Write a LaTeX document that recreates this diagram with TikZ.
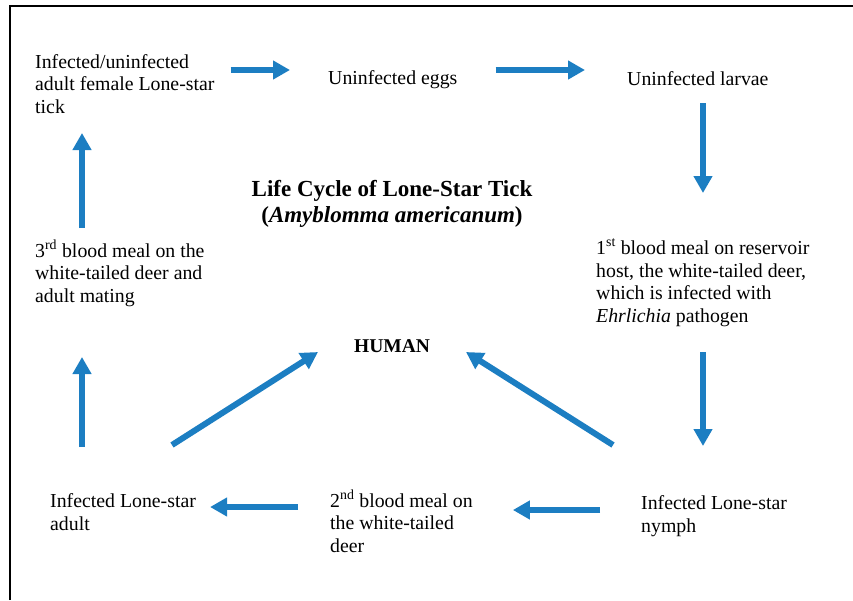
\documentclass[tikz,border=0pt]{standalone}
\usepackage{fontspec}
\setmainfont{Liberation Serif}
\usetikzlibrary{arrows.meta}
\definecolor{arrowblue}{RGB}{28,126,194}
\tikzset{
  stage/.style={inner sep=0pt, anchor=base west, align=left, font=\fontsize{19.8}{22.5}\selectfont},
  flow/.style={draw=arrowblue, line width=6pt, -{Triangle[length=17pt,width=18pt]}},
}
\begin{document}
\begin{tikzpicture}[x=1pt,y=-1pt]
\useasboundingbox (0,0) rectangle (853,600);
% frame
\draw[line width=2.5pt] (10,600) -- (10,6) -- (853,6);
% stages (placed at the baseline of their last line)
\node[stage] (female) at (35,113) {Infected/uninfected\\adult female Lone-star\\tick};
\node[stage] (eggs) at (328,84) {Uninfected eggs};
\node[stage] (larvae) at (627,85) {Uninfected larvae};
\node[stage] (meal1) at (596,322) {1\textsuperscript{st} blood meal on reservoir\\host, the white-tailed deer,\\which is infected with\\\textit{Ehrlichia} pathogen};
\node[stage] (nymph) at (641,532) {Infected Lone-star\\nymph};
\node[stage] (meal2) at (330,552) {2\textsuperscript{nd} blood meal on\\the white-tailed\\deer};
\node[stage] (adult) at (50,530) {Infected Lone-star\\adult};
\node[stage] (meal3) at (35,302) {3\textsuperscript{rd} blood meal on the\\white-tailed deer and\\adult mating};
\node[stage, anchor=base, align=center, font=\fontsize{19.5}{22.5}\selectfont\bfseries] (human) at (392,352) {HUMAN};
\node[stage, anchor=base, align=center, font=\fontsize{23}{26}\selectfont\bfseries] (title) at (392,222) {Life Cycle of Lone-Star Tick\\(\textit{Amyblomma americanum})};
% cycle
\draw[flow] ([shift={(16,-43)}]female.base east) -- ([shift={(-38,-14)}]eggs.base west);
\draw[flow] ([shift={(38,-14)}]eggs.base east) -- ([shift={(-42,-15)}]larvae.base west);
\draw[flow] ([shift={(76,18)}]larvae.base west) -- ([shift={(107,-129)}]meal1.base west);
\draw[flow] ([shift={(107,30)}]meal1.base west) -- ([shift={(62,-86)}]nymph.base west);
\draw[flow] ([shift={(-41,-22)}]nymph.base west) -- ([shift={(40,-42)}]meal2.base east);
\draw[flow] ([shift={(-32,-45)}]meal2.base west) -- ([shift={(14,-23)}]adult.base east);
\draw[flow] ([shift={(32,-83)}]adult.base west) -- ([shift={(47,55)}]meal3.base west);
\draw[flow] ([shift={(47,-74)}]meal3.base west) -- ([shift={(47,20)}]female.base west);
% towards the human
\draw[flow] ([shift={(122,-85)}]adult.base west) -- ([shift={(-74,0)}]human.base);
\draw[flow] ([shift={(-28,-87)}]nymph.base west) -- ([shift={(74,0)}]human.base);
\end{tikzpicture}
\end{document}
